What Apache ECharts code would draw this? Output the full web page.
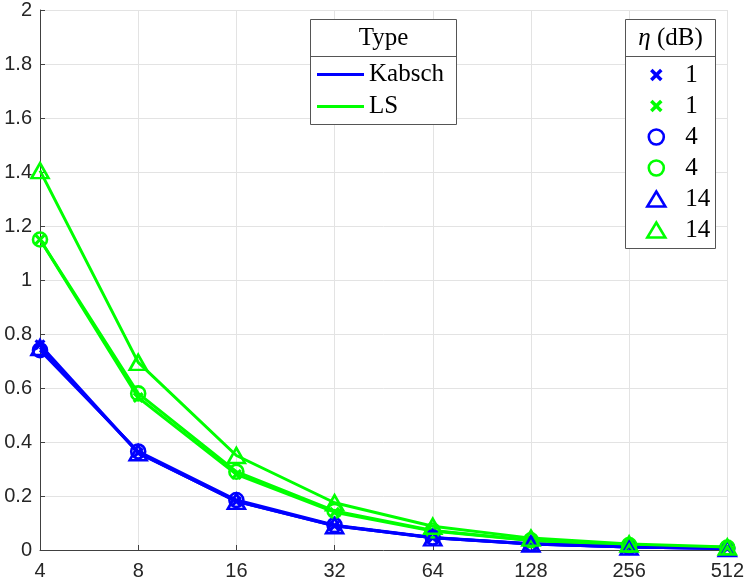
<!DOCTYPE html>
<html>
<head>
<meta charset="utf-8">
<script src="https://cdn.jsdelivr.net/npm/echarts@6/dist/echarts.min.js"></script>
<style>
html,body{margin:0;padding:0;background:#fff;}
#c{width:747px;height:582px;}
</style>
</head>
<body>
<div id="c"></div>
<script>
const xLabels = ['4','8','16','32','64','128','256','512'];
const kabschEta1  = [0.76, 0.36, 0.18, 0.090, 0.045, 0.022, 0.011, 0.0055];
const lsEta1      = [1.15, 0.565, 0.28, 0.140, 0.070, 0.035, 0.0175, 0.009];
const kabschEta4  = [0.74, 0.365, 0.185, 0.092, 0.046, 0.023, 0.0115, 0.0058];
const lsEta4      = [1.15, 0.58, 0.29, 0.145, 0.072, 0.036, 0.018, 0.009];
const kabschEta14 = [0.75, 0.36, 0.18, 0.090, 0.045, 0.022, 0.011, 0.0055];
const lsEta14     = [1.405, 0.695, 0.35, 0.175, 0.088, 0.044, 0.022, 0.011];
const typeNames = ['Kabsch', 'LS'];
const etaLabels = ['1', '4', '14'];
const yTicks = { min: 0, max: 2, interval: 0.2 };

const BLUE = '#0000ff', GREEN = '#00ff00';
const XPATH = 'path://M0,2L2,0L5,3L8,0L10,2L7,5L10,8L8,10L5,7L2,10L0,8L3,5Z';
// same cross, with zero-area corner points so it sits smaller inside the legend icon box
const XPATH_LEGEND = 'path://M-1,-1L-1,-1ZM11,11L11,11ZM0,2L2,0L5,3L8,0L10,2L7,5L10,8L8,10L5,7L2,10L0,8L3,5Z';

const markerDefs = [
  { key: 'b1',  color: BLUE,  data: kabschEta1,  eta: etaLabels[0], sym: XPATH, lsym: XPATH_LEGEND, size: 11, hollow: false },
  { key: 'g1',  color: GREEN, data: lsEta1,      eta: etaLabels[0], sym: XPATH, lsym: XPATH_LEGEND, size: 11, hollow: false },
  { key: 'b4',  color: BLUE,  data: kabschEta4,  eta: etaLabels[1], sym: 'circle', lsym: 'circle', size: 14, hollow: true },
  { key: 'g4',  color: GREEN, data: lsEta4,      eta: etaLabels[1], sym: 'circle', lsym: 'circle', size: 14, hollow: true },
  { key: 'b14', color: BLUE,  data: kabschEta14, eta: etaLabels[2], sym: 'triangle', lsym: 'triangle', size: [17, 15], hollow: true },
  { key: 'g14', color: GREEN, data: lsEta14,     eta: etaLabels[2], sym: 'triangle', lsym: 'triangle', size: [17, 15], hollow: true }
];

function itemStyleOf(d) {
  return d.hollow
    ? { color: 'rgba(0,0,0,0)', borderColor: d.color, borderWidth: 2.6 }
    : { color: d.color, borderWidth: 0 };
}

const series = markerDefs.map(d => ({
  name: d.key,
  type: 'line',
  data: d.data,
  symbol: d.sym,
  symbolSize: d.size,
  showAllSymbol: true,
  lineStyle: { color: d.color, width: 3 },
  itemStyle: itemStyleOf(d),
  emphasis: { disabled: true },
  animation: false,
  z: 3
}));
const typeColors = [BLUE, GREEN];
typeNames.forEach((n, i) => {
  series.push({ name: n, type: 'line', data: [], symbol: 'none', lineStyle: { color: typeColors[i], width: 3 }, itemStyle: { color: typeColors[i] } });
});

const etaMap = {};
markerDefs.forEach(d => { etaMap[d.key] = d.eta; });

const serif = 'Liberation Serif';
const option = {
  animation: false,
  backgroundColor: '#fff',
  grid: { left: 40, right: 18, top: 7, bottom: 32, containLabel: false },
  xAxis: {
    type: 'category',
    data: xLabels,
    boundaryGap: false,
    axisLine: { lineStyle: { color: '#404040', width: 1 } },
    axisTick: { show: true, inside: true, length: 5, alignWithLabel: true, lineStyle: { color: '#404040' } },
    axisLabel: { color: '#262626', fontSize: 20, fontFamily: 'Liberation Sans', margin: 11, showMaxLabel: true, showMinLabel: true },
    splitLine: { show: true, lineStyle: { color: '#e3e3e3', width: 1 } }
  },
  yAxis: {
    type: 'value',
    min: yTicks.min, max: yTicks.max, interval: yTicks.interval,
    axisLine: { show: true, lineStyle: { color: '#404040', width: 1 } },
    axisTick: { show: true, inside: true, length: 5, lineStyle: { color: '#404040' } },
    axisLabel: { color: '#262626', fontSize: 20, fontFamily: 'Liberation Sans', margin: 8 },
    splitLine: { show: true, lineStyle: { color: '#e3e3e3', width: 1 } }
  },
  legend: [
    {
      data: typeNames.map((n, i) => ({ name: n, icon: 'rect', itemStyle: { color: typeColors[i], borderWidth: 0 } })),
      orient: 'vertical',
      left: 317, top: 62,
      itemWidth: 47, itemHeight: 3, itemGap: 7,
      padding: 0,
      selectedMode: false,
      textStyle: { fontFamily: serif, fontSize: 25, color: '#000' },
      z: 6
    },
    {
      data: markerDefs.map(d => ({ name: d.key, icon: d.lsym, itemStyle: itemStyleOf(d) })),
      orient: 'vertical',
      left: 646, top: 62.5,
      itemWidth: 18, itemHeight: 15, itemGap: 6,
      padding: 0,
      selectedMode: false,
      symbolKeepAspect: true,
      formatter: name => '{a|' + etaMap[name] + '}',
      textStyle: {
        fontFamily: serif, fontSize: 25, color: '#000',
        rich: { a: { fontFamily: serif, fontSize: 25, color: '#000', padding: [0, 0, 0, 15] } }
      },
      z: 6
    }
  ],
  graphic: [
    { type: 'rect', z: 5, shape: { x: 310.5, y: 19.5, width: 146, height: 105 }, style: { fill: '#fff', stroke: '#555', lineWidth: 1 } },
    { type: 'line', z: 5, shape: { x1: 310.5, y1: 56.5, x2: 456.5, y2: 56.5 }, style: { stroke: '#555', lineWidth: 1 } },
    { type: 'text', z: 7, style: { x: 383.5, y: 38, text: 'Type', fontFamily: serif, fontSize: 25, fill: '#000', align: 'center', verticalAlign: 'middle' } },
    { type: 'rect', z: 5, shape: { x: 625.5, y: 19.5, width: 90, height: 229 }, style: { fill: '#fff', stroke: '#555', lineWidth: 1 } },
    { type: 'line', z: 5, shape: { x1: 625.5, y1: 56.5, x2: 715.5, y2: 56.5 }, style: { stroke: '#555', lineWidth: 1 } },
    { type: 'text', z: 7, style: { x: 670.5, y: 38, text: '{i|η} (dB)', fontFamily: serif, fontSize: 25, fill: '#000', align: 'center', verticalAlign: 'middle',
      rich: { i: { fontFamily: serif, fontStyle: 'italic', fontSize: 25, fill: '#000' } } } }
  ],
  series: series
};

const chart = echarts.init(document.getElementById('c'), null, { renderer: 'canvas' });
chart.setOption(option);
</script>
</body>
</html>
